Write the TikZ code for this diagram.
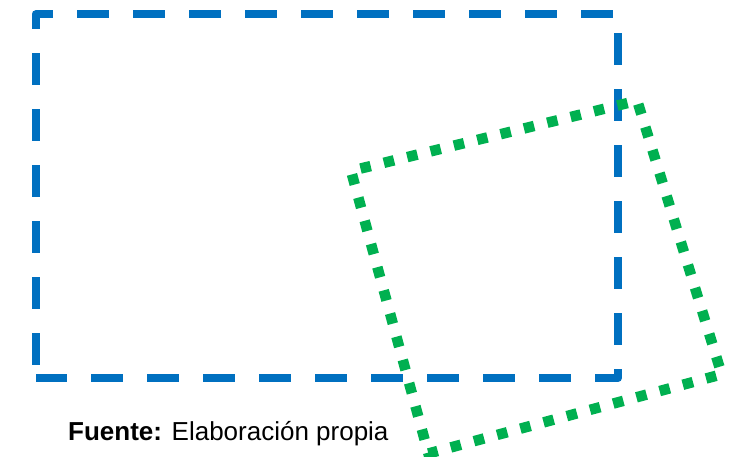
\documentclass[tikz,border=0pt]{standalone}
\usepackage{fontspec}
\setmainfont{Liberation Sans}
\usepackage{tikz}
\definecolor{MarcoAzul}{HTML}{0070C0}
\definecolor{MarcoVerde}{HTML}{00B050}

\begin{document}
\begin{tikzpicture}[x=1pt, y=-1pt,
  azul/.style={draw=MarcoAzul, line width=8pt, line join=round,
               dash pattern=on 32pt off 24pt, dash phase=43pt},
  verde/.style={draw=MarcoVerde, line width=10.5pt, line cap=butt,
                dash pattern=on 10.5pt off 13.54pt, dash phase=14.25pt},
  fuente/.style={anchor=base west, inner sep=0pt, font=\fontsize{26}{30}\selectfont},
]
\useasboundingbox (0,0) rectangle (737,457);
%% ---- blue dashed frame ----
\draw[azul] (35.5,378) -- (35.5,14.5) -- (618,14.5) -- (618,378) -- cycle;
%% ---- green dotted frame, turned ----
\coordinate (v1) at (351.0,170.9);
\coordinate (v2) at (637.2,100.7);
\coordinate (v3) at (721.7,374.3);
\coordinate (v4) at (428.4,453.5);
\draw[verde] (v1) -- (v2) -- (v3) -- (v4) -- cycle;
%% ---- source ----
\node[fuente] (fuente) at (68,440) {\textbf{Fuente:} Elaboración propia};
\end{tikzpicture}
\end{document}
